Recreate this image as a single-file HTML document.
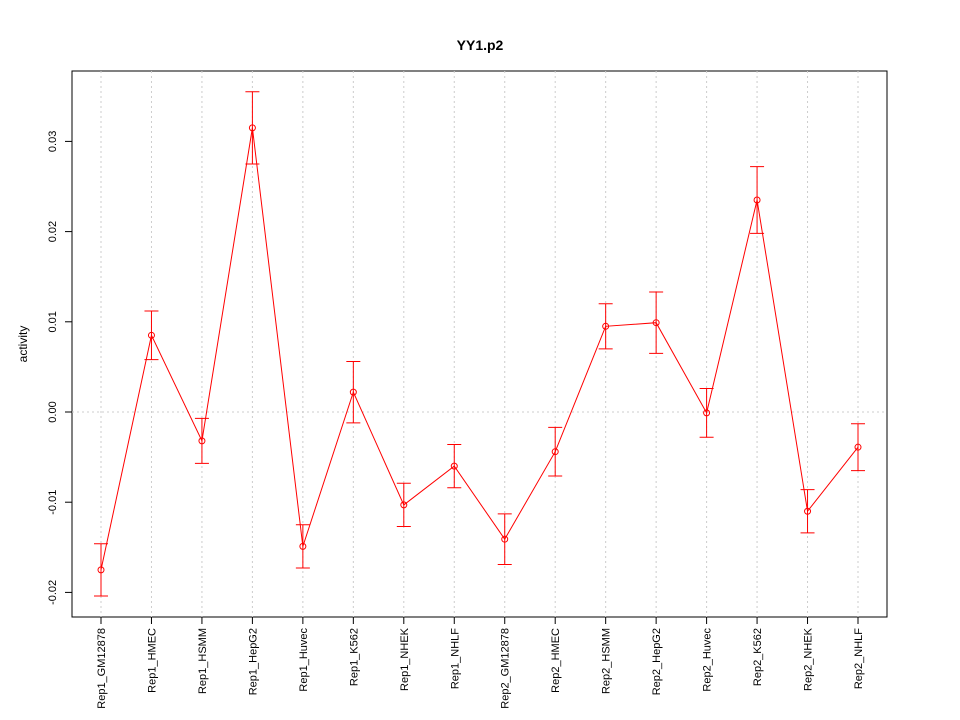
<!DOCTYPE html>
<html><head><meta charset="utf-8"><style>
body{margin:0;background:#fff;}
svg{display:block;font-family:"Liberation Sans",Arial,sans-serif;}
</style></head><body>
<svg id="chart" width="960" height="720">
<text x="480" y="50" text-anchor="middle" font-size="14" font-weight="bold">YY1.p2</text>
<rect x="72" y="71" width="815" height="546" fill="none" stroke="#000"/>
<text transform="translate(27,344) rotate(-90)" text-anchor="middle" font-size="12">activity</text>
<g id="grid"></g><g id="yaxis"></g><g id="xaxis"></g><g id="series"></g>
</svg>
<script>
const categories=["Rep1_GM12878","Rep1_HMEC","Rep1_HSMM","Rep1_HepG2","Rep1_Huvec","Rep1_K562","Rep1_NHEK","Rep1_NHLF","Rep2_GM12878","Rep2_HMEC","Rep2_HSMM","Rep2_HepG2","Rep2_Huvec","Rep2_K562","Rep2_NHEK","Rep2_NHLF"];
const values=[-0.0175,0.0085,-0.0032,0.0315,-0.0149,0.0022,-0.0103,-0.006,-0.0141,-0.0044,0.0095,0.0099,-0.0001,0.0235,-0.011,-0.0039];
const errors=[0.0029,0.0027,0.0025,0.0040,0.0024,0.0034,0.0024,0.0024,0.0028,0.0027,0.0025,0.0034,0.0027,0.0037,0.0024,0.0026];
const yTicks=[-0.02,-0.01,0,0.01,0.02,0.03];
const yTickLabels=["-0.02","-0.01","0.00","0.01","0.02","0.03"];
const NS="http://www.w3.org/2000/svg";
function X(i){return 101+i*(858-101)/(categories.length-1);}
function Y(v){return 412-v*9020;}
function mk(parent,tag,attrs){const e=document.createElementNS(NS,tag);for(const k in attrs)e.setAttribute(k,attrs[k]);document.getElementById(parent).appendChild(e);return e;}
let e;
categories.forEach((c,i)=>{
e=mk("grid","line",{x1:X(i),x2:X(i),y1:71,y2:617,stroke:"#ccc","stroke-dasharray":"2,3"});


e=mk("xaxis","line",{x1:X(i),x2:X(i),y1:617,y2:624,stroke:"#000"});


e=mk("xaxis","text",{transform:`translate(${X(i)+4},628) rotate(-90)`,"text-anchor":"end","font-size":"11"});
e.textContent=c;


});
e=mk("grid","line",{x1:72,x2:887,y1:Y(0),y2:Y(0),stroke:"#ccc","stroke-dasharray":"2,3"});


yTicks.forEach((t,i)=>{
e=mk("yaxis","line",{x1:65,x2:72,y1:Y(t),y2:Y(t),stroke:"#000"});


e=mk("yaxis","text",{transform:`translate(56,${Y(t)}) rotate(-90)`,"text-anchor":"middle","font-size":"11"});
e.textContent=yTickLabels[i];


});
e=mk("series","polyline",{points:values.map((v,i)=>X(i)+","+Y(v)).join(" "),fill:"none",stroke:"#f00"});


values.forEach((v,i)=>{
const x=X(i),t=Y(v+errors[i]),b=Y(v-errors[i]);
e=mk("series","path",{d:`M${x},${t}V${b}M${x-7},${t}H${x+7}M${x-7},${b}H${x+7}`,stroke:"#f00",fill:"none"});


e=mk("series","circle",{cx:x,cy:Y(v),r:3,fill:"none",stroke:"#f00"});


});
</script>
</body></html>
